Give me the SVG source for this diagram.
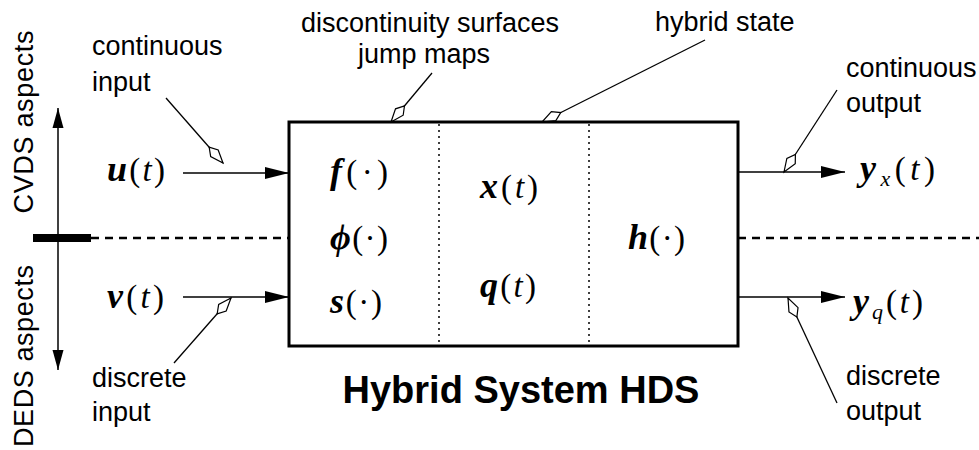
<svg xmlns="http://www.w3.org/2000/svg" width="979" height="450" viewBox="0 0 979 450">
<defs>
<style>
.lbl{font-family:"Liberation Sans",Arial,sans-serif;font-size:27px;fill:#000}
.ttl{font-family:"Liberation Sans",Arial,sans-serif;font-size:38px;font-weight:bold;fill:#000}
.m{font-family:"Liberation Serif","Times New Roman",serif;font-size:33px;fill:#000}
.b{font-weight:bold;font-style:italic;font-size:36px}
.i{font-style:italic}
.ln{stroke:#000;stroke-width:1.5;fill:none}
.co{stroke:#000;stroke-width:1.3;fill:none;marker-end:url(#kite)}
.ar{stroke:#000;stroke-width:1.5;fill:none;marker-end:url(#tri)}
.dash{stroke:#000;stroke-width:2.4;stroke-dasharray:8 6;fill:none}
.dot{stroke:#000;stroke-width:1.5;stroke-dasharray:2 4;fill:none}
</style>
<marker id="tri" markerUnits="userSpaceOnUse" viewBox="-25 -7 26 14" refX="0" refY="0" markerWidth="26" markerHeight="14" orient="auto">
<path d="M0,0 L-24,-6 L-24,6 Z" fill="#000"/>
</marker>
<marker id="tri2" markerUnits="userSpaceOnUse" viewBox="-25 -7 26 14" refX="0" refY="0" markerWidth="26" markerHeight="14" orient="auto-start-reverse">
<path d="M0,0 L-20,-5.5 L-20,5.5 Z" fill="#000"/>
</marker>
<marker id="kite" markerUnits="userSpaceOnUse" viewBox="-23 -7 25 14" refX="0" refY="0" markerWidth="25" markerHeight="14" orient="auto">
<path d="M0,0 L-13,-5 L-21,0 L-13,5 Z" fill="#fff" stroke="#000" stroke-width="1.2" stroke-linejoin="miter"/>
</marker>
</defs>

<g id="axis">
<line x1="58" y1="370" x2="58" y2="108" class="ln" marker-start="url(#tri2)" marker-end="url(#tri2)"/>
<rect x="33" y="234" width="58" height="8" fill="#000"/>
<text class="lbl" transform="translate(33,122) rotate(-90)" text-anchor="middle" textLength="183">CVDS aspects</text>
<text class="lbl" transform="translate(33,356) rotate(-90)" text-anchor="middle" textLength="182">DEDS aspects</text>
</g>

<g id="connectors">
<line x1="91" y1="238" x2="289" y2="238" class="dash"/>
<line x1="738" y1="238" x2="979" y2="238" class="dash"/>
<line x1="183" y1="173" x2="289" y2="173" class="ar"/>
<line x1="183" y1="297" x2="289" y2="297" class="ar"/>
<line x1="738" y1="172" x2="845" y2="172" class="ar"/>
<line x1="738" y1="297" x2="845" y2="297" class="ar"/>
<line x1="166" y1="98" x2="223" y2="163" class="co"/>
<line x1="174" y1="363" x2="231" y2="298" class="co"/>
<line x1="432" y1="73" x2="391" y2="122" class="co"/>
<line x1="705" y1="40" x2="542" y2="122" class="co"/>
<line x1="837" y1="90" x2="784" y2="172" class="co"/>
<line x1="837" y1="403" x2="788" y2="298" class="co"/>
</g>

<g id="hds">
<rect x="289" y="122" width="449" height="224" fill="none" stroke="#000" stroke-width="3"/>
<line x1="439" y1="124" x2="439" y2="345" class="dot"/>
<line x1="589" y1="124" x2="589" y2="345" class="dot"/>
<text class="m" x="330" y="183" textLength="58"><tspan class="b">f</tspan>(·)</text>
<text class="m" x="330" y="249" textLength="58"><tspan class="b">ϕ</tspan>(·)</text>
<text class="m" x="330" y="313" textLength="52"><tspan class="b">s</tspan>(·)</text>
<text class="m" x="480" y="198" textLength="58"><tspan class="b">x</tspan>(<tspan class="i">t</tspan>)</text>
<text class="m" x="480" y="297" textLength="56"><tspan class="b">q</tspan>(<tspan class="i">t</tspan>)</text>
<text class="m" x="628" y="249" textLength="57"><tspan class="b">h</tspan>(·)</text>
<text class="ttl" x="521" y="403" text-anchor="middle">Hybrid System HDS</text>
</g>

<g id="inputs">
<text class="m" x="107" y="181" textLength="58"><tspan class="b">u</tspan>(<tspan class="i">t</tspan>)</text>
<text class="m" x="107" y="308" textLength="57"><tspan class="b">v</tspan>(<tspan class="i">t</tspan>)</text>
<text class="lbl" x="92" y="55">continuous</text>
<text class="lbl" x="92" y="91">input</text>
<text class="lbl" x="92" y="387">discrete</text>
<text class="lbl" x="92" y="421">input</text>
</g>

<g id="top-labels">
<text class="lbl" x="430" y="32" text-anchor="middle">discontinuity surfaces</text>
<text class="lbl" x="424" y="63" text-anchor="middle">jump maps</text>
<text class="lbl" x="655" y="31">hybrid state</text>
</g>

<g id="outputs">
<text class="m" x="860" y="180" textLength="75"><tspan class="b">y</tspan><tspan class="i" font-size="22" dy="6">x</tspan><tspan dy="-6">(</tspan><tspan class="i">t</tspan>)</text>
<text class="m" x="853" y="313" textLength="70"><tspan class="b">y</tspan><tspan class="i" font-size="22" dy="6">q</tspan><tspan dy="-6">(</tspan><tspan class="i">t</tspan>)</text>
<text class="lbl" x="846" y="77">continuous</text>
<text class="lbl" x="846" y="112">output</text>
<text class="lbl" x="846" y="385">discrete</text>
<text class="lbl" x="846" y="420">output</text>
</g>
</svg>
